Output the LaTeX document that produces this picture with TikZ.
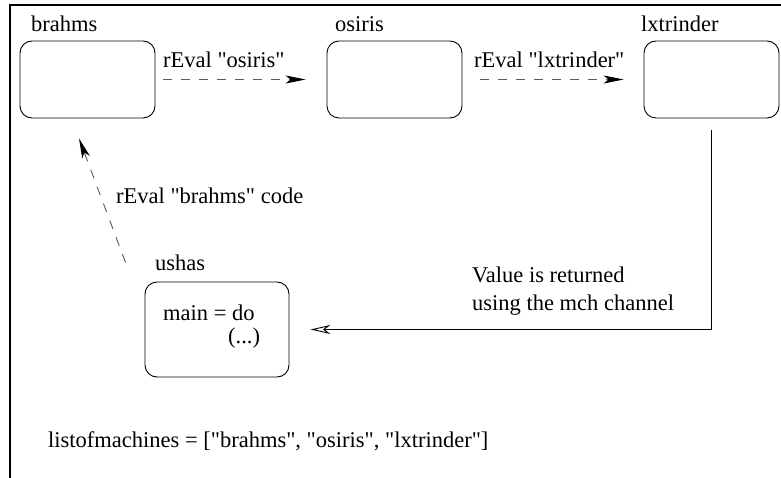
\documentclass[tikz,border=0pt]{standalone}
\usepackage{fontspec}
\setmainfont{Liberation Serif}
\usetikzlibrary{arrows.meta}
\newcommand{\dq}{\XeTeXglyph\XeTeXcharglyph"22\relax}
\begin{document}
\begin{tikzpicture}[x=1pt,y=-1pt,
  machine/.style={draw, line width=0.9pt, rounded corners=12pt, minimum width=135pt, minimum height=77pt, inner sep=0pt},
  ushasbox/.style={draw, line width=0.9pt, rounded corners=12pt, minimum width=144pt, minimum height=95pt, inner sep=0pt},
  lbl/.style={anchor=base west, inner sep=0pt, font=\fontsize{22.5}{26}\selectfont},
  dasharrow/.style={draw=black!65, line width=0.9pt, dash pattern=on 9pt off 9pt, -{Stealth[length=20pt,width=8pt,inset=5pt,color=black,fill=black]}},
  retarrow/.style={draw, line width=0.9pt, -{Stealth[open,length=20pt,width=9pt,inset=6pt]}},
  frame/.style={line width=2pt}]
\useasboundingbox (0,0) rectangle (781,478);
\draw[frame] (781,5) -- (10,5) -- (10,478);

\node[machine] (b1) at (87.5,79.5) {};
\node[machine] (b2) at (394.5,79.5) {};
\node[machine] (b3) at (711.5,79.5) {};
\node[ushasbox] (u) at (217,329.5) {};

\node[lbl] (t1) at (31,32) {brahms};
\node[lbl] (t2) at (335,32) {osiris};
\node[lbl] (t3) at (641,32) {lxtrinder};
\node[lbl] (t4) at (155,270) {ushas};

\node[lbl] (l1) at (163,68) {rEval \dq osiris\dq};
\node[lbl] (l2) at (474,68) {rEval \dq lxtrinder\dq};
\node[lbl] (l3) at (116,204) {rEval \dq brahms\dq\ code};
\node[lbl] (l4) at (472,282) {Value is returned};
\node[lbl] (l5) at (472,310) {using the mch channel};
\node[lbl] (m1) at (163,320) {main = do};
\node[lbl] (m2) at (228,343) {(...)};
\node[lbl] (lst) at (48,447) {listofmachines = [\dq brahms\dq, \dq osiris\dq, \dq lxtrinder\dq]};

\draw[dasharrow] ([xshift=8pt]b1.east) -- ([xshift=-21pt]b2.west);
\draw[dasharrow] ([xshift=18pt]b2.east) -- ([xshift=-20pt]b3.west);
\draw[dasharrow] ([xshift=-19pt,yshift=19pt]u.north west) -- ([xshift=-8.5pt,yshift=-20pt]b1.south);
\draw[retarrow] ([yshift=-12pt]b3.south) |- ([xshift=21pt]u.east);
\end{tikzpicture}
\end{document}
